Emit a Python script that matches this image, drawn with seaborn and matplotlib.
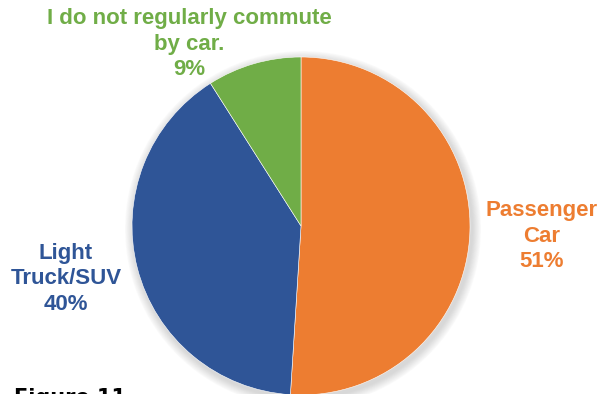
import matplotlib
matplotlib.use("Agg")
import matplotlib.pyplot as plt
import seaborn as sns
from matplotlib.patches import Circle

categories = ["Passenger\nCar", "Light\nTruck/SUV", "I do not regularly commute\nby car."]
shares = [51, 40, 9]
colors = ["#ED7D31", "#2F5597", "#70AD47"]

sns.set_theme(style="white")
plt.rcParams["font.family"] = ["Liberation Sans", "DejaVu Sans"]

W, H = 602, 394
fig = plt.figure(figsize=(W / 100, H / 100), dpi=100)
ax = fig.add_axes([0, 0, 1, 1])

cx, cy, r = 301, H - 226, 169

# soft drop shadow behind the pie
for i in range(10, 0, -1):
    ax.add_patch(Circle((cx + 2, cy - 3), r + i * 0.9, color="0.55",
                        alpha=0.035, lw=0, zorder=1))

ax.pie(shares, colors=colors, startangle=90, counterclock=False,
       center=(cx, cy), radius=r, frame=True,
       wedgeprops=dict(linewidth=0.4, edgecolor="white", zorder=2))
ax.set_xlim(0, W)
ax.set_ylim(0, H)
ax.set_aspect("equal")
ax.axis("off")

label_pos = [(542, H - 236), (66, H - 279), (189, H - 44)]
for cat, val, col, (x, y) in zip(categories, shares, colors, label_pos):
    ax.text(x, y, f"{cat}\n{val}%", ha="center", va="center", color=col,
            fontsize=16, fontweight="bold", linespacing=1.3, zorder=3)

ax.text(14, H - 388, "Figure 11", ha="left", va="top", fontsize=15,
        fontweight="bold", color="black", family="DejaVu Sans")

fig.savefig("out.png", dpi=100)
